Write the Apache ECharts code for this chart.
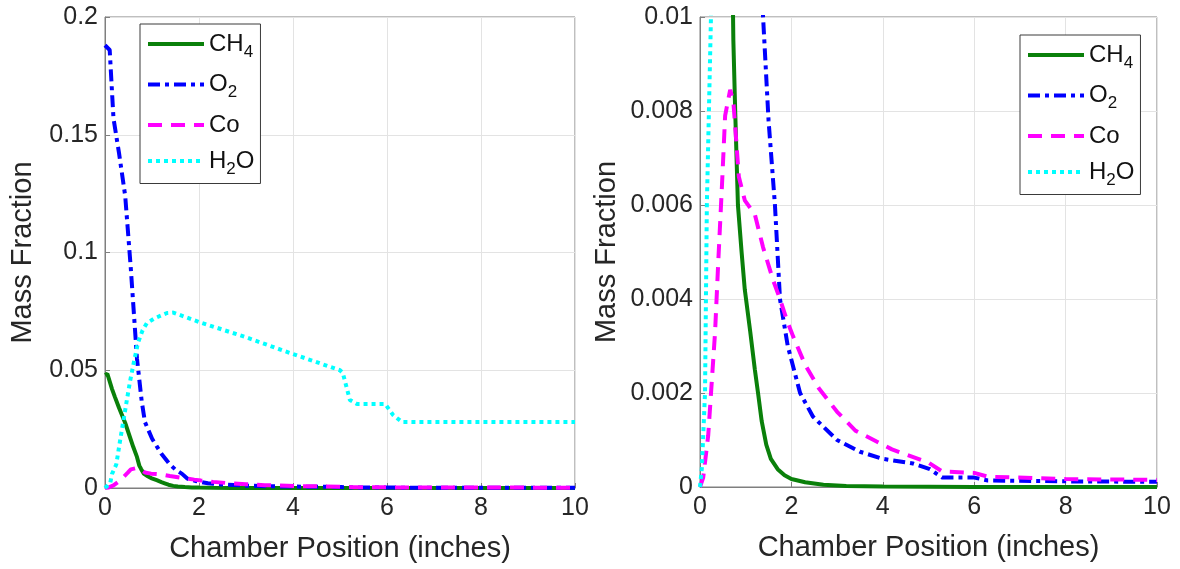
<!DOCTYPE html>
<html>
<head>
<meta charset="utf-8">
<script src="https://cdn.jsdelivr.net/npm/echarts@6/dist/echarts.min.js"></script>
<style>
  html, body { margin: 0; padding: 0; background: #fff; }
  #chart { width: 1180px; height: 569px; }
</style>
</head>
<body>
<div id="chart"></div>
<script>
// positions along the chamber (inches) and mass fractions
var ch4X = [0, 0.05, 0.15, 0.21, 0.3, 0.43, 0.6, 0.68, 0.73, 0.77, 0.83, 0.91, 0.98, 1.1, 1.2, 1.27, 1.35, 1.45, 1.55, 1.7, 1.85, 2.0, 2.3, 2.7, 3.2, 4, 6, 10];
var ch4Y = [0.048, 0.0485, 0.042, 0.0387, 0.034, 0.0276, 0.0175, 0.0132, 0.0095, 0.008, 0.006, 0.005, 0.0042, 0.0033, 0.0025, 0.002, 0.0014, 0.0009, 0.0006, 0.00038, 0.00025, 0.00017, 0.0001, 0.00005, 0.00002, 0.00001, 0, 0];

var o2X = [0, 0.1, 0.18, 0.3, 0.43, 0.55, 0.68, 0.78, 0.85, 1.0, 1.2, 1.38, 1.5, 1.64, 1.75, 1.92, 2.19, 2.47, 3.0, 3.5, 4.0, 4.66, 5.03, 5.3, 6.0, 6.3, 8, 10];
var o2Y = [0.188, 0.186, 0.157, 0.142, 0.124, 0.093, 0.055, 0.037, 0.028, 0.021, 0.0145, 0.010, 0.0078, 0.006, 0.004, 0.003, 0.002, 0.0015, 0.001, 0.00075, 0.0006, 0.0005, 0.00038, 0.0002, 0.0002, 0.00014, 0.00012, 0.00011];

var coX = [0, 0.07, 0.18, 0.33, 0.4, 0.48, 0.55, 0.66, 0.73, 0.85, 0.98, 1.2, 1.38, 1.6, 1.75, 1.9, 2.04, 2.3, 2.6, 3.0, 3.4, 4.2, 5.0, 5.3, 6.0, 6.3, 8, 10];
var coY = [0, 0.0002, 0.0011, 0.0033, 0.0048, 0.0064, 0.0079, 0.00845, 0.0082, 0.0066, 0.0061, 0.0058, 0.0051, 0.0044, 0.004, 0.00355, 0.0032, 0.0026, 0.0021, 0.0016, 0.0012, 0.0008, 0.00052, 0.00033, 0.0003, 0.00022, 0.00017, 0.00015];

var h2oX = [0, 0.04, 0.11, 0.15, 0.24, 0.32, 0.42, 0.53, 0.62, 0.7, 0.8, 0.89, 1.05, 1.32, 1.45, 2.0, 3.0, 3.94, 5.0, 5.06, 5.21, 5.36, 5.96, 6.13, 6.32, 10];
var h2oY = [0, 0.0004, 0.002, 0.006, 0.01, 0.02, 0.032, 0.045, 0.054, 0.0615, 0.067, 0.070, 0.072, 0.0743, 0.0745, 0.0705, 0.064, 0.0573, 0.050, 0.0488, 0.0374, 0.0357, 0.0357, 0.031, 0.028, 0.028];

var names = ['CH4', 'O2', 'Co', 'H2O'];
var labels = { 'CH4': 'CH{sub|4}', 'O2': 'O{sub|2}', 'Co': 'Co', 'H2O': 'H{sub|2}O' };

function pairs(xs, ys) {
    return xs.map(function (x, i) { return [x, ys[i]]; });
}

var font = 'Liberation Sans, Arial, sans-serif';
var textColor = '#262626';

var styles = [
    { name: 'CH4', color: '#0a800a', dash: 'solid', data: pairs(ch4X, ch4Y) },
    { name: 'O2', color: '#0000ff', dash: [12, 5, 4, 5], data: pairs(o2X, o2Y) },
    { name: 'Co', color: '#ff00ff', dash: [14, 9], data: pairs(coX, coY) },
    { name: 'H2O', color: '#00ffff', dash: [4, 4], data: pairs(h2oX, h2oY) }
];

function makeX(idx) {
    return {
        type: 'value', gridIndex: idx, min: 0, max: 10, interval: 2,
        name: 'Chamber Position (inches)', nameLocation: 'middle', nameGap: 46,
        nameTextStyle: { fontFamily: font, fontSize: 29, color: textColor },
        axisLine: { show: true, onZero: false, lineStyle: { color: '#7f7f7f' } },
        axisTick: { show: true, inside: true, length: 5, lineStyle: { color: '#7f7f7f' } },
        axisLabel: { fontFamily: font, fontSize: 25, color: textColor, margin: 8 },
        splitLine: { show: true, lineStyle: { color: '#e3e3e3' } }
    };
}

function makeY(idx, max, step, gap) {
    return {
        type: 'value', gridIndex: idx, min: 0, max: max, interval: step,
        name: 'Mass Fraction', nameLocation: 'middle', nameGap: gap,
        nameTextStyle: { fontFamily: font, fontSize: 29, color: textColor },
        axisLine: { show: true, lineStyle: { color: '#7f7f7f' } },
        axisTick: { show: true, inside: true, length: 5, lineStyle: { color: '#7f7f7f' } },
        axisLabel: { fontFamily: font, fontSize: 25, color: textColor, margin: 7,
            formatter: function (v) { return String(+v.toFixed(4)); } },
        splitLine: { show: true, lineStyle: { color: '#e3e3e3' } }
    };
}

function makeLegend(left, top) {
    return {
        data: names, orient: 'vertical', left: left, top: top,
        backgroundColor: '#fff', borderColor: '#3a3a3a', borderWidth: 1,
        padding: [8, 6, 6, 6], itemWidth: 56, itemHeight: 14, itemGap: 12,
        itemStyle: { opacity: 0 },
        lineStyle: { width: 4 },
        formatter: function (n) { return labels[n]; },
        textStyle: {
            fontFamily: font, fontSize: 24, color: '#111',
            rich: { sub: { fontFamily: font, fontSize: 17, color: '#111', padding: [16, 0, 0, 0] } }
        }
    };
}

var series = [];
[0, 1].forEach(function (g) {
    styles.forEach(function (s) {
        series.push({
            name: s.name, type: 'line', xAxisIndex: g, yAxisIndex: g,
            data: s.data, showSymbol: false, symbol: 'none', smooth: false,
            clip: true, animation: false,
            lineStyle: { color: s.color, width: 4, type: s.dash, cap: 'butt' },
            itemStyle: { color: s.color }
        });
    });
});

var chart = echarts.init(document.getElementById('chart'));
chart.setOption({
    animation: false,
    grid: [
        { left: 105, top: 17, width: 470, height: 471, show: true, borderColor: '#7f7f7f', borderWidth: 1, backgroundColor: '#fff' },
        { left: 700, top: 17, width: 457, height: 470, show: true, borderColor: '#7f7f7f', borderWidth: 1, backgroundColor: '#fff' }
    ],
    xAxis: [makeX(0), makeX(1)],
    yAxis: [makeY(0, 0.2, 0.05, 68), makeY(1, 0.01, 0.002, 79)],
    legend: [makeLegend(140, 24), makeLegend(1020, 35)],
    series: series
});
</script>
</body>
</html>
